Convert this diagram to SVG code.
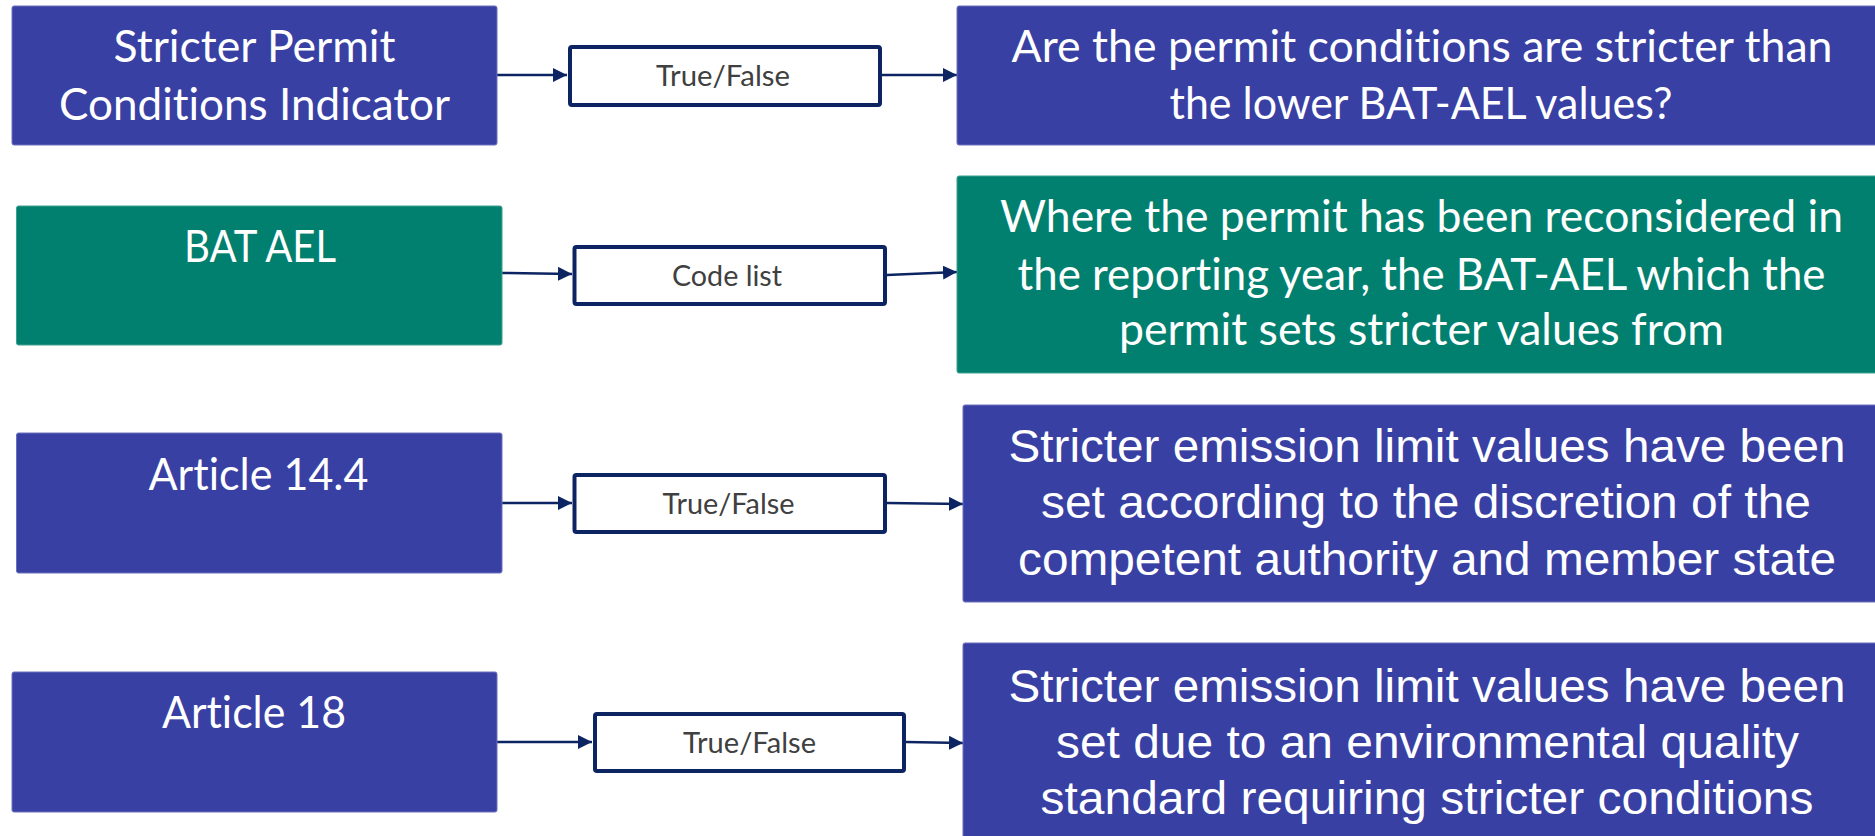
<svg xmlns="http://www.w3.org/2000/svg" width="1875" height="836" viewBox="0 0 1875 836">
<style>
.blue{fill:#3940a3;stroke:#6c71bd;stroke-width:1}
.green{fill:#02806f;stroke:#3fa090;stroke-width:1}
.lab{fill:#ffffff;stroke:#0c2461;stroke-width:4}
.ct{font-family:Lato,"Open Sans",sans-serif;fill:#ffffff;font-size:45px;text-anchor:middle;font-variant-ligatures:none}
.at{font-family:"Liberation Sans",Arial,sans-serif;fill:#ffffff;font-size:47px;text-anchor:middle}
.lt{font-family:Lato,"Open Sans",sans-serif;fill:#404040;font-size:28px;text-anchor:middle;font-variant-ligatures:none}
.con{stroke:#0c2461;stroke-width:2.5;fill:none;marker-end:url(#ah)}
</style>
<defs>
<marker id="ah" markerUnits="userSpaceOnUse" markerWidth="15" markerHeight="15" refX="14" refY="7" orient="auto">
<path d="M0,0 L14,7 L0,14 Z" fill="#0c2461"/>
</marker>
</defs>
<rect width="1875" height="836" fill="#ffffff"/>

<g id="connectors">
<line class="con" x1="497" y1="75" x2="567" y2="75"/>
<line class="con" x1="882" y1="75" x2="957" y2="75"/>
<line class="con" x1="502" y1="273" x2="572" y2="274"/>
<line class="con" x1="887" y1="275" x2="957" y2="272"/>
<line class="con" x1="502" y1="503" x2="572" y2="503"/>
<line class="con" x1="887" y1="503" x2="963" y2="504"/>
<line class="con" x1="497" y1="742" x2="592" y2="742"/>
<line class="con" x1="906" y1="742" x2="963" y2="743"/>
</g>

<g id="n1-src">
<rect class="blue" x="12" y="6" width="485" height="139" rx="2"/>
<text class="ct" x="254.5" y="62" textLength="282" lengthAdjust="spacingAndGlyphs">Stricter Permit</text>
<text class="ct" x="254.5" y="120" textLength="391" lengthAdjust="spacingAndGlyphs">Conditions Indicator</text>
</g>
<g id="n1-type">
<rect class="lab" x="570" y="47" width="310" height="58" rx="2"/>
<text class="lt" x="723" y="86" textLength="134" lengthAdjust="spacingAndGlyphs">True/False</text>
</g>
<g id="n1-desc">
<rect class="blue" x="957" y="6" width="930" height="139" rx="2"/>
<text class="ct" x="1422" y="62" textLength="821" lengthAdjust="spacingAndGlyphs">Are the permit conditions are stricter than</text>
<text class="ct" x="1421" y="119" textLength="503" lengthAdjust="spacingAndGlyphs">the lower BAT-AEL values?</text>
</g>

<g id="n2-src">
<rect class="green" x="16.5" y="206" width="485.5" height="139" rx="2"/>
<text class="ct" x="260" y="262" textLength="152" lengthAdjust="spacingAndGlyphs">BAT AEL</text>
</g>
<g id="n2-type">
<rect class="lab" x="574.5" y="247" width="310.5" height="57" rx="2"/>
<text class="lt" x="727" y="286" textLength="110" lengthAdjust="spacingAndGlyphs">Code list</text>
</g>
<g id="n2-desc">
<rect class="green" x="957" y="176" width="930" height="197" rx="2"/>
<text class="ct" x="1421.5" y="232" textLength="843" lengthAdjust="spacingAndGlyphs">Where the permit has been reconsidered in</text>
<text class="ct" x="1421.5" y="290" textLength="808" lengthAdjust="spacingAndGlyphs">the reporting year, the BAT-AEL which the</text>
<text class="ct" x="1421.5" y="345" textLength="605" lengthAdjust="spacingAndGlyphs">permit sets stricter values from</text>
</g>

<g id="n3-src">
<rect class="blue" x="16.5" y="433" width="485.5" height="140" rx="2"/>
<text class="ct" x="258.5" y="490" textLength="220" lengthAdjust="spacingAndGlyphs">Article 14.4</text>
</g>
<g id="n3-type">
<rect class="lab" x="574.5" y="475" width="310.5" height="57" rx="2"/>
<text class="lt" x="728.5" y="514" textLength="132" lengthAdjust="spacingAndGlyphs">True/False</text>
</g>
<g id="n3-desc">
<rect class="blue" x="963" y="405" width="924" height="197" rx="2"/>
<text class="at" x="1427" y="462" textLength="837" lengthAdjust="spacingAndGlyphs">Stricter emission limit values have been</text>
<text class="at" x="1426" y="518" textLength="770" lengthAdjust="spacingAndGlyphs">set according to the discretion of the</text>
<text class="at" x="1427" y="575" textLength="818" lengthAdjust="spacingAndGlyphs">competent authority and member state</text>
</g>

<g id="n4-src">
<rect class="blue" x="12" y="672" width="485" height="140" rx="2"/>
<text class="ct" x="254" y="728" textLength="184" lengthAdjust="spacingAndGlyphs">Article 18</text>
</g>
<g id="n4-type">
<rect class="lab" x="595" y="714" width="309" height="57" rx="2"/>
<text class="lt" x="749.5" y="753" textLength="133" lengthAdjust="spacingAndGlyphs">True/False</text>
</g>
<g id="n4-desc">
<rect class="blue" x="963" y="643" width="924" height="210" rx="2"/>
<text class="at" x="1427" y="702" textLength="837" lengthAdjust="spacingAndGlyphs">Stricter emission limit values have been</text>
<text class="at" x="1427.5" y="758" textLength="743" lengthAdjust="spacingAndGlyphs">set due to an environmental quality</text>
<text class="at" x="1427" y="814" textLength="773" lengthAdjust="spacingAndGlyphs">standard requiring stricter conditions</text>
</g>
</svg>
